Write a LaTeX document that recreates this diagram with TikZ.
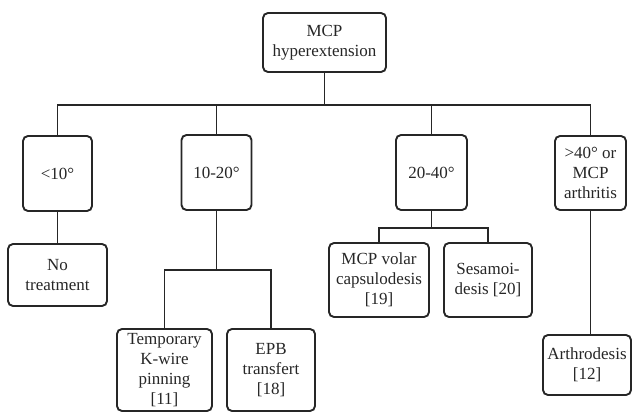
\documentclass[tikz,border=0pt]{standalone}
\usepackage{fontspec}
\setmainfont{Liberation Serif}
\begin{document}
\begin{tikzpicture}[x=1pt,y=-1pt,
  box/.style={draw=black!85, line width=1.9pt, rounded corners=5pt, align=center,
    inner sep=0pt, text=black!85,
    font=\fontsize{17}{20}\selectfont},
  link/.style={draw=black!85, line width=1.9pt}]
\useasboundingbox (0,0) rectangle (632,412);
\node[box, minimum width=123pt, minimum height=59pt] (top) at (324.5,42.5) {MCP\\hyperextension};
\node[box, minimum width=69pt, minimum height=75pt] (lt10) at (57.5,173.5) {<10°};
\node[box, minimum width=70pt, minimum height=75pt] (b1020) at (216.5,172.5) {10-20°};
\node[box, minimum width=71pt, minimum height=75pt] (b2040) at (431.5,172.5) {20-40°};
\node[box, minimum width=71pt, minimum height=74pt] (gt40) at (590.5,173) {>40° or\\MCP\\arthritis};
\node[box, minimum width=99pt, minimum height=62pt] (notreat) at (57.5,275) {No\\treatment};
\node[box, minimum width=95pt, minimum height=82pt] (temp) at (164.5,370) {Temporary\\K-wire\\pinning\\{[11]}};
\node[box, minimum width=88pt, minimum height=82pt] (epb) at (271,370) {EPB\\transfert\\{[18]}};
\node[box, minimum width=100pt, minimum height=74pt] (volar) at (379,280) {MCP volar\\capsulodesis\\{[19]}};
\node[box, minimum width=88pt, minimum height=74pt] (sesa) at (488,280) {Sesamoi-\\desis [20]};
\node[box, minimum width=88pt, minimum height=60pt] (arth) at (587,365) {Arthrodesis\\{[12]}};
\coordinate (bus) at ([yshift=-32pt]top.south);
\draw[link] (top.south) -- (bus);
\draw[link] (bus) -| (lt10.north);
\draw[link] (bus) -| (b1020.north);
\draw[link] (bus) -| (b2040.north);
\draw[link] (bus) -| (gt40.north);
\draw[link] (lt10.south) -- (notreat.north);
\coordinate (bus2) at ([yshift=-59pt]b1020.south);
\draw[link] (b1020.south) -- (bus2);
\draw[link] (bus2) -| (temp.north);
\draw[link] (bus2) -| (epb.north);
\coordinate (bus3) at ([yshift=-17pt]b2040.south);
\draw[link] (b2040.south) -- (bus3);
\draw[link] (bus3) -| (volar.north);
\draw[link] (bus3) -| (sesa.north);
\draw[link] (gt40.south) -- (gt40.south |- arth.north);
\end{tikzpicture}
\end{document}
